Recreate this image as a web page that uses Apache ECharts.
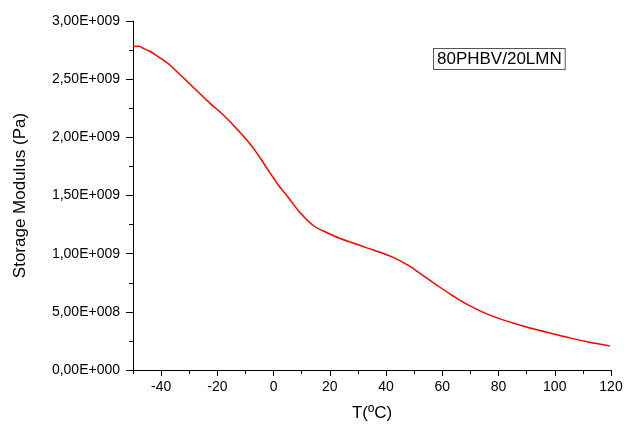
<!DOCTYPE html>
<html>
<head>
<meta charset="utf-8">
<script src="https://cdn.jsdelivr.net/npm/echarts@6/dist/echarts.min.js"></script>
<style>
  html, body { margin: 0; padding: 0; background: #fff; }
  #chart { width: 626px; height: 427px; }
</style>
</head>
<body>
<div id="chart"></div>
<script>
// Temperature sweep (°C) and storage modulus (Pa) for the 80PHBV/20LMN blend
const temperature = [
  -50, -48, -46, -44, -41.5, -39, -36.8, -34, -32, -27.3, -22.5, -17.8, -13, -8.3,
  -4.7, -2, 0, 2, 5, 9.5, 14.2, 19, 23.7, 28.5, 33.2, 38, 42.7, 47.5, 50, 52.2,
  58, 64, 70, 76, 81, 88, 94, 100, 106, 112, 119.5
];
const storageModulus = [
  2.78e9, 2.783e9, 2.76e9, 2.74e9, 2.70e9, 2.66e9, 2.62e9, 2.555e9, 2.51e9, 2.40e9,
  2.29e9, 2.19e9, 2.07e9, 1.94e9, 1.82e9, 1.72e9, 1.65e9, 1.58e9, 1.49e9, 1.35e9,
  1.24e9, 1.18e9, 1.13e9, 1.09e9, 1.05e9, 1.01e9, 0.966e9, 0.905e9, 0.866e9, 0.829e9,
  0.73e9, 0.634e9, 0.549e9, 0.48e9, 0.435e9, 0.383e9, 0.343e9, 0.308e9, 0.272e9,
  0.241e9, 0.207e9
];
const majorTicksT = [-40, -20, 0, 20, 40, 60, 80, 100, 120];
const minorTicksT = [-50, -30, -10, 10, 30, 50, 70, 90, 110];
const sampleName = '80PHBV/20LMN';

const FONT = "'Liberation Sans', Arial, sans-serif";

// Scientific label in the style 2,50E+009
function sciLabel(v) {
  if (v === 0) return '0,00E+000';
  const e = Math.floor(Math.log10(v) + 1e-9);
  const m = v / Math.pow(10, e);
  return m.toFixed(2).replace('.', ',') + 'E+' + String(e).padStart(3, '0');
}

const chart = echarts.init(document.getElementById('chart'), null, { renderer: 'canvas' });

const axisBlack = { color: '#000', width: 1 };

chart.setOption({
  animation: false,
  backgroundColor: '#fff',
  grid: { left: 133, right: 15, top: 21, bottom: 57, containLabel: false },
  xAxis: [
    {
      type: 'value', min: -50, max: 120,
      name: 'T(ºC)', nameLocation: 'middle', nameGap: 35,
      nameTextStyle: { fontFamily: FONT, fontSize: 17, color: '#000' },
      axisLine: { show: true, onZero: false, lineStyle: axisBlack },
      axisTick: { show: true, inside: false, length: 6, lineStyle: axisBlack, customValues: majorTicksT },
      axisLabel: { fontFamily: FONT, fontSize: 14, color: '#000', margin: 10, customValues: majorTicksT },
      splitLine: { show: false }
    },
    {
      type: 'value', min: -50, max: 120, position: 'bottom',
      axisLine: { show: false, onZero: false },
      axisTick: { show: true, inside: false, length: 4, lineStyle: axisBlack, customValues: minorTicksT },
      axisLabel: { show: false },
      splitLine: { show: false }
    }
  ],
  yAxis: {
    type: 'value', min: 0, max: 3e9, interval: 5e8,
    name: 'Storage Modulus (Pa)', nameLocation: 'middle', nameGap: 104, nameRotate: 90,
    nameTextStyle: { fontFamily: FONT, fontSize: 17, color: '#000' },
    axisLine: { show: true, onZero: false, lineStyle: axisBlack },
    axisTick: { show: true, inside: false, length: 7, lineStyle: axisBlack },
    minorTick: { show: true, splitNumber: 2, length: 4, lineStyle: axisBlack },
    axisLabel: { fontFamily: FONT, fontSize: 14, color: '#000', margin: 13, formatter: sciLabel },
    splitLine: { show: false },
    minorSplitLine: { show: false }
  },
  graphic: [
    {
      type: 'text', left: 433, top: 48,
      style: {
        text: sampleName,
        font: '17px ' + FONT,
        fill: '#000',
        backgroundColor: '#fff',
        borderColor: '#555',
        borderWidth: 1,
        padding: [2, 3, 1, 3]
      },
      z: 10
    }
  ],
  series: [
    {
      type: 'line',
      xAxisIndex: 0,
      data: temperature.map((t, i) => [t, storageModulus[i]]),
      showSymbol: false,
      smooth: 0.4,
      lineStyle: { color: '#ff0000', width: 1.5 },
      itemStyle: { color: '#ff0000' },
      clip: false
    }
  ]
});
</script>
</body>
</html>
